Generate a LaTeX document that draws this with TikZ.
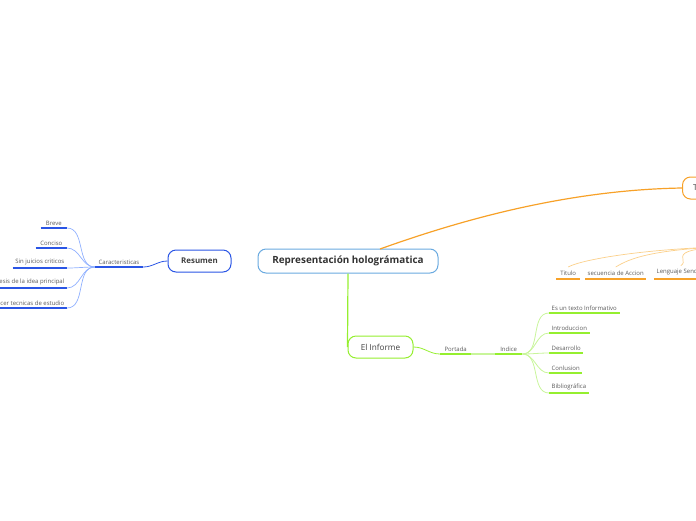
\documentclass[tikz,border=0pt]{standalone}
\usepackage{fontspec}
\setmainfont{Open Sans}
\definecolor{cblue}{HTML}{2A55E5}
\definecolor{lblue}{HTML}{8FB0FF}
\definecolor{cbord}{HTML}{6AAAE0}
\definecolor{cgreen}{HTML}{95EF2F}
\definecolor{lgreen}{HTML}{C8F59A}
\definecolor{corange}{HTML}{F7A128}
\definecolor{lorange}{HTML}{FBD08A}
\definecolor{tgray}{HTML}{5A5A5A}
\begin{document}
\begin{tikzpicture}[x=1pt,y=-1pt,
  leaf/.style={font=\fontsize{6}{7}\selectfont, text=tgray, inner xsep=2.5pt, inner ysep=2.5pt},
  topic/.style={rounded corners=8pt, fill=white, line width=1pt, minimum height=22pt, text=black!75},
  bul/.style={cblue, line width=1.6pt},
  gul/.style={cgreen, line width=1.6pt},
  oul/.style={corange, line width=1.8pt},
  bcon/.style={lblue, line width=0.7pt},
  gcon/.style={lgreen, line width=0.8pt},
  ocon/.style={lorange, line width=0.7pt}]
\useasboundingbox (0,0) rectangle (696,520);
\clip (0,0) rectangle (696,520);

% main nodes
\node[topic, draw=cbord, minimum width=180pt, minimum height=24pt,
      font=\fontsize{9.9}{11}\selectfont\bfseries, text=black!80] (c) at (348,261) {Representación holográmatica};
\node[topic, draw=cblue, minimum width=63pt, font=\fontsize{7.9}{9}\selectfont\bfseries] (r) at (199.5,261) {Resumen};
\node[topic, draw=cgreen, minimum width=65pt, font=\fontsize{8.2}{9}\selectfont] (inf) at (380.5,347) {El Informe};
\node[topic, draw=corange, anchor=west, inner xsep=10.5pt, font=\fontsize{8}{9}\selectfont] (t) at (682,188) {Texto};

% Resumen branch
\node[leaf, anchor=south, minimum width=48pt] (car) at (119,267) {Caracteristicas};
\draw[bul] (car.south west) -- (car.south east);
\draw[cblue, line width=0.8pt] (r.west) to[out=180,in=0] (car.south east);

\node[leaf, anchor=south east, minimum width=26pt] (b1) at (67,228) {Breve};
\node[leaf, anchor=south east, minimum width=31pt] (b2) at (67,248) {Conciso};
\node[leaf, anchor=south east] (b3) at (67,268) {Sin juicios criticos};
\node[leaf, anchor=south east] (b4) at (67,288) {Síntesis de la idea principal};
\node[leaf, anchor=south east] (b5) at (67,308) {Conocer tecnicas de estudio};
\foreach \n in {b1,b2,b3,b4,b5} {
  \draw[bul] (\n.south west) -- (\n.south east);
  \draw[bcon] (car.south west) to[out=180,in=0] (\n.south east);
}

% El Informe branch
\draw[cgreen, line width=1.2pt] (c.south) -- (inf.west);
\node[leaf, anchor=south west, minimum width=31pt] (por) at (440,354) {Portada};
\node[leaf, anchor=south west, minimum width=27pt] (idx) at (495,354) {Indice};
\draw[gul] (por.south west) -- (por.south east);
\draw[gul] (idx.south west) -- (idx.south east);
\draw[cgreen, line width=0.8pt] (inf.east) to[out=0,in=180] (por.south west);
\draw[gcon, line width=1.2pt] (por.south east) -- (idx.south west);

\node[leaf, anchor=south west] (i1) at (549,313) {Es un texto Informativo};
\node[leaf, anchor=south west] (i2) at (549,333) {Introduccion};
\node[leaf, anchor=south west] (i3) at (549,353) {Desarrollo};
\node[leaf, anchor=south west] (i4) at (549,373) {Conlusion};
\node[leaf, anchor=south west] (i5) at (549,393) {Bibliográfica};
\foreach \n in {i1,i2,i3,i4,i5} {
  \draw[gul] (\n.south west) -- (\n.south east);
  \draw[gcon] (idx.south east) to[out=0,in=180] (\n.south west);
}

% Texto branch
\draw[corange, line width=1.2pt] (380,249) .. controls (450,224) and (560,190) .. (t.west);
\coordinate (op) at (770,246);
\node[leaf, anchor=south west, inner ysep=3.5pt, minimum width=24pt] (o1) at (556,279) {Titulo};
\node[leaf, anchor=south west, inner ysep=3.5pt] (o2) at (585,279) {secuencia de Accion};
\node[leaf, anchor=south west, inner ysep=3.5pt] (o3) at (654,279) {Lenguaje Sencillo};
\foreach \n in {o1,o2,o3} {
  \draw[oul] (\n.south west) -- (\n.south east);
  \draw[ocon] (op) .. controls +(-120,0) and +(12,-7) .. (\n.north);
}
\end{tikzpicture}
\end{document}
